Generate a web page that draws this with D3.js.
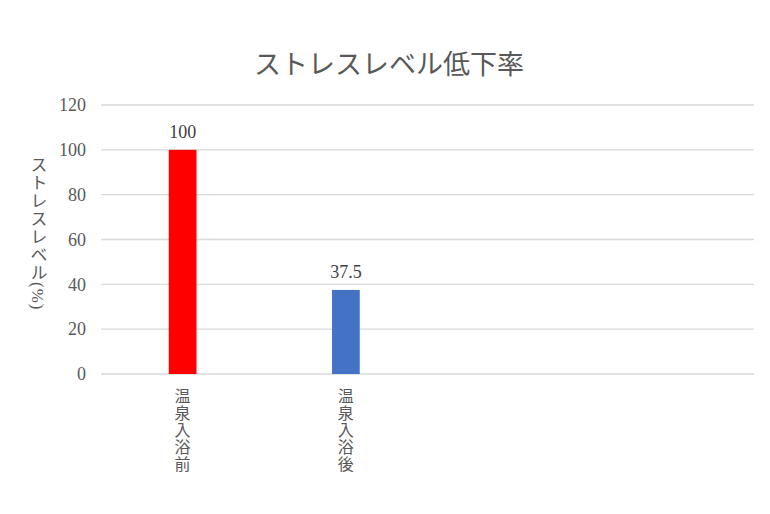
<!DOCTYPE html>
<html>
<head>
<meta charset="utf-8">
<script src="https://cdn.jsdelivr.net/npm/d3@7"></script>
<style>
    body { margin: 0; background: #fff; }
    svg text { font-family: "Liberation Serif", "Noto Sans CJK JP", serif; fill: #595959; }
</style>
</head>
<body>
<div id="chart"></div>
<script>
// data
var categories = ['温泉入浴前', '温泉入浴後', '', ' '];
var stressValues = [100, 37.5, null, null];
var barColors = ['#ff0000', '#4472c4'];
var yTicks = [0, 20, 40, 60, 80, 100, 120];
var titleText = 'ストレスレベル低下率';
var yLabelText = 'ストレスレベル(%)';

var width = 770, height = 514;
var margin = {top: 105, left: 101, right: 16, bottom: 140};
var innerW = width - margin.left - margin.right,
    innerH = height - margin.top - margin.bottom;

var svg = d3.select('#chart').append('svg')
    .attr('width', width)
    .attr('height', height);

var xScale = d3.scaleBand()
    .domain(categories)
    .range([0, innerW])
    .paddingInner(0.83)
    .paddingOuter(0.415);

var yScale = d3.scaleLinear()
    .domain([0, 120])
    .range([innerH, 0]);

var g = svg.append('g')
    .attr('transform', 'translate(' + margin.left + ',' + margin.top + ')');

// gridlines
g.append('g').selectAll('line')
    .data(yTicks)
    .enter().append('line')
    .attr('x1', 0)
    .attr('x2', innerW)
    .attr('y1', function (d) { return yScale(d); })
    .attr('y2', function (d) { return yScale(d); })
    .attr('stroke', '#d9d9d9')
    .attr('stroke-width', 1.3);

// y axis
var yAxis = d3.axisLeft(yScale).tickValues(yTicks).tickSize(0).tickPadding(15);
var yAxisG = g.append('g').call(yAxis)
    .attr('font-family', null)
    .attr('font-size', null);
yAxisG.select('.domain').remove();
yAxisG.selectAll('text')
    .style('font-family', '"Liberation Serif", serif')
    .style('font-size', '18px')
    .style('fill', '#595959');

// bars
var barData = stressValues.map(function (v, i) {
    return {cat: categories[i], value: v, color: barColors[i]};
}).filter(function (d) { return d.value != null; });

g.selectAll('rect.bar')
    .data(barData)
    .enter().append('rect')
    .attr('class', 'bar')
    .attr('x', function (d) { return xScale(d.cat); })
    .attr('width', xScale.bandwidth())
    .attr('y', function (d) { return yScale(d.value); })
    .attr('height', function (d) { return innerH - yScale(d.value); })
    .attr('fill', function (d) { return d.color; });

// value labels
g.selectAll('text.val')
    .data(barData)
    .enter().append('text')
    .attr('class', 'val')
    .attr('x', function (d) { return xScale(d.cat) + xScale.bandwidth() / 2; })
    .attr('y', function (d) { return yScale(d.value) - 12; })
    .attr('text-anchor', 'middle')
    .style('font-size', '18px')
    .style('fill', '#404040')
    .text(function (d) { return d.value; });

// x labels, stacked characters
var xLab = g.selectAll('text.xlab')
    .data(barData)
    .enter().append('text')
    .attr('class', 'xlab')
    .attr('text-anchor', 'middle')
    .style('font-size', '16px');
xLab.each(function (d) {
    var cx = xScale(d.cat) + xScale.bandwidth() / 2;
    var t = d3.select(this);
    d.cat.split('').forEach(function (ch, i) {
        t.append('tspan')
            .attr('x', cx)
            .attr('y', innerH + 28 + i * 17)
            .text(ch);
    });
});

// title
svg.append('text')
    .attr('x', 389)
    .attr('y', 74)
    .attr('text-anchor', 'middle')
    .style('font-size', '27px')
    .text(titleText);

// y label
svg.append('text')
    .attr('x', 37)
    .attr('y', 156)
    .style('writing-mode', 'vertical-rl')
    .style('font-size', '17px')
    .style('letter-spacing', '1px')
    .text(yLabelText);
</script>
</body>
</html>
